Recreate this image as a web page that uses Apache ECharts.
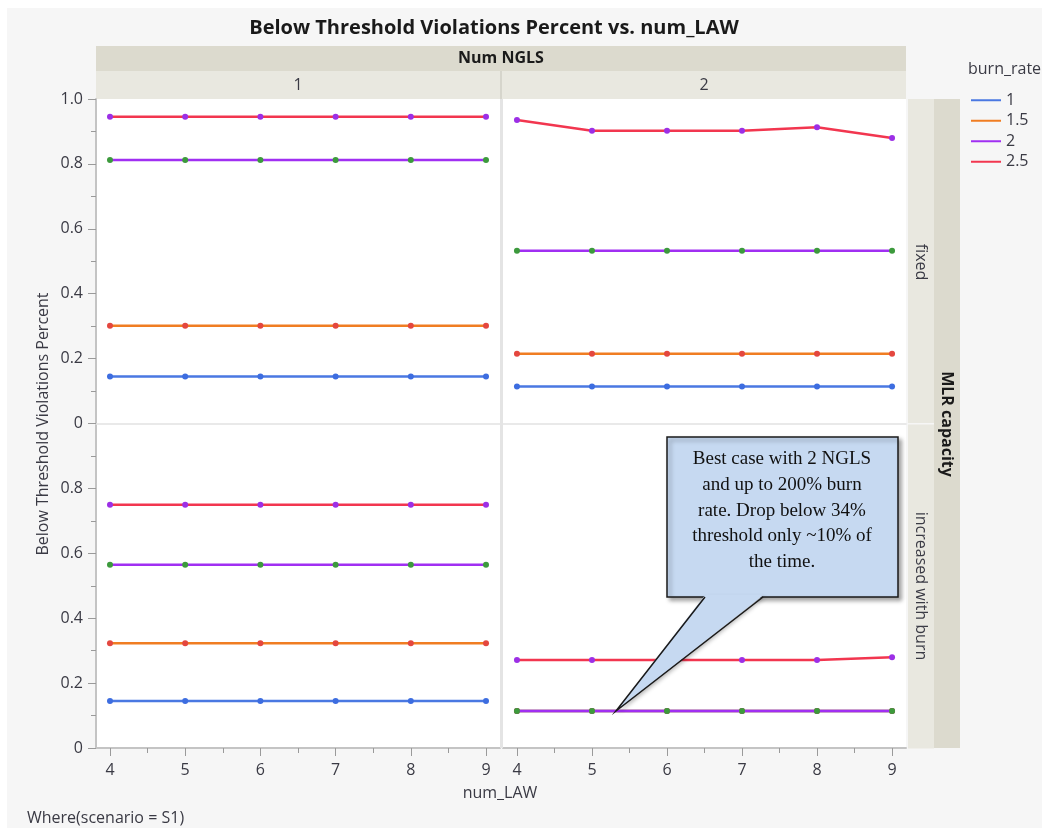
<!DOCTYPE html>
<html>
<head>
<meta charset="utf-8">
<script src="https://cdn.jsdelivr.net/npm/echarts@6/dist/echarts.min.js"></script>
<style>
html,body{margin:0;padding:0;background:#fff;}
#main{width:1042px;height:828px;}
</style>
</head>
<body>
<div id="main"></div>
<script>
// ---------- data ----------
const numLAW = [4, 5, 6, 7, 8, 9];
const burnRates = ['1', '1.5', '2', '2.5'];
const xTicks = [4, 5, 6, 7, 8, 9];
const xMinorTicks = [4.5, 5.5, 6.5, 7.5, 8.5];
const nglsLabels = ['1', '2'];
const mlrLabels = ['fixed', 'increased with burn'];

// NGLS 1, MLR fixed
const n1Fixed_b1   = [0.145, 0.145, 0.145, 0.145, 0.145, 0.145];
const n1Fixed_b15  = [0.301, 0.301, 0.301, 0.301, 0.301, 0.301];
const n1Fixed_b2   = [0.812, 0.812, 0.812, 0.812, 0.812, 0.812];
const n1Fixed_b25  = [0.945, 0.945, 0.945, 0.945, 0.945, 0.945];
// NGLS 2, MLR fixed
const n2Fixed_b1   = [0.114, 0.114, 0.114, 0.114, 0.114, 0.114];
const n2Fixed_b15  = [0.215, 0.215, 0.215, 0.215, 0.215, 0.215];
const n2Fixed_b2   = [0.532, 0.532, 0.532, 0.532, 0.532, 0.532];
const n2Fixed_b25  = [0.935, 0.902, 0.902, 0.902, 0.913, 0.880];
// NGLS 1, MLR increased with burn
const n1Inc_b1     = [0.145, 0.145, 0.145, 0.145, 0.145, 0.145];
const n1Inc_b15    = [0.323, 0.323, 0.323, 0.323, 0.323, 0.323];
const n1Inc_b2     = [0.565, 0.565, 0.565, 0.565, 0.565, 0.565];
const n1Inc_b25    = [0.750, 0.750, 0.750, 0.750, 0.750, 0.750];
// NGLS 2, MLR increased with burn
const n2Inc_b1     = [0.114, 0.114, 0.114, 0.114, 0.114, 0.114];
const n2Inc_b15    = [0.114, 0.114, 0.114, 0.114, 0.114, 0.114];
const n2Inc_b2     = [0.114, 0.114, 0.114, 0.114, 0.114, 0.114];
const n2Inc_b25    = [0.271, 0.271, 0.271, 0.271, 0.271, 0.280];

const panelData = [
  [n1Fixed_b1, n1Fixed_b15, n1Fixed_b2, n1Fixed_b25],
  [n2Fixed_b1, n2Fixed_b15, n2Fixed_b2, n2Fixed_b25],
  [n1Inc_b1, n1Inc_b15, n1Inc_b2, n1Inc_b25],
  [n2Inc_b1, n2Inc_b15, n2Inc_b2, n2Inc_b25]
];

// ---------- style ----------
const lineColors   = ['#4a78e2', '#f07d22', '#a02ff2', '#f2364f'];
const markerColors = ['#3d6de0', '#e4473f', '#3c9a3c', '#9c2fe6'];
const FONT = '"Open Sans", "Noto Sans", sans-serif';
const TXT = '#3a3a44';
const STRIP_DARK = '#dcdace';
const STRIP_LIGHT = '#e9e8e0';

const grids = [
  {left: 96,  top: 99,    width: 404, height: 324.5},
  {left: 503, top: 99,    width: 403, height: 324.5},
  {left: 96,  top: 423.5, width: 404, height: 324.5},
  {left: 503, top: 423.5, width: 403, height: 324.5}
].map(g => Object.assign({show: true, backgroundColor: '#fff', borderWidth: 0}, g));

const XMIN = 3.814, XMAX = 9.186;
const xAxes = [];
for (let p = 0; p < 4; p++) {
  const bottom = p >= 2;
  xAxes.push({
    type: 'value', gridIndex: p, min: XMIN, max: XMAX, position: 'bottom',
    axisLine: {show: true, lineStyle: {color: bottom ? '#c4c4c4' : '#e2e2e2', width: bottom ? 2 : 1.5}},
    axisTick: {show: bottom, customValues: xTicks, length: 8, lineStyle: {color: '#9a9a9a', width: 1}},
    axisLabel: {show: bottom, customValues: xTicks, margin: 14, fontSize: 16, color: TXT, fontFamily: FONT},
    splitLine: {show: false}
  });
}
for (let p = 0; p < 4; p++) {
  const bottom = p >= 2;
  xAxes.push({
    type: 'value', gridIndex: p, min: XMIN, max: XMAX, show: bottom, position: 'bottom', offset: 0,
    axisLine: {show: false},
    axisTick: {show: bottom, customValues: xMinorTicks, length: 5, lineStyle: {color: '#9a9a9a', width: 1}},
    axisLabel: {show: false},
    splitLine: {show: false}
  });
}

const yAxes = [];
for (let p = 0; p < 4; p++) {
  const left = (p % 2) === 0;
  yAxes.push({
    type: 'value', gridIndex: p, min: 0, max: 1, interval: 0.2, show: left, position: 'left',
    axisLine: {show: true, lineStyle: {color: '#c4c4c4', width: 2}},
    axisTick: {show: true, length: 8, lineStyle: {color: '#9a9a9a', width: 1}},
    minorTick: {show: true, splitNumber: 2, length: 5, lineStyle: {color: '#9a9a9a', width: 1}},
    axisLabel: {
      margin: 13, fontSize: 16, color: TXT, fontFamily: FONT,
      formatter: v => {
        if (p === 2 && Math.abs(v - 1) < 1e-9) return '';
        return Math.abs(v) < 1e-9 ? '0' : v.toFixed(1);
      }
    },
    splitLine: {show: false}
  });
}

const series = [];
for (let p = 0; p < 4; p++) {
  for (let b = 0; b < 4; b++) {
    series.push({
      name: burnRates[b], type: 'line', xAxisIndex: p, yAxisIndex: p,
      data: numLAW.map((x, i) => [x, panelData[p][b][i]]),
      symbol: 'circle', symbolSize: 6, showSymbol: true,
      lineStyle: {color: lineColors[b], width: 2.5},
      itemStyle: {color: markerColors[b]},
      emphasis: {disabled: true}, animation: false, z: 3 + b
    });
  }
}

const chart = echarts.init(document.getElementById('main'), null, {renderer: 'canvas'});

function baseGraphics() {
  const g = [];
  // white outer edge
  g.push({type: 'rect', shape: {x: 0, y: 0, width: 1042, height: 8}, style: {fill: '#fff'}, z: 0});
  g.push({type: 'rect', shape: {x: 0, y: 0, width: 7, height: 828}, style: {fill: '#fff'}, z: 0});
  // title
  g.push({type: 'text', x: 494, y: 28, style: {text: 'Below Threshold Violations Percent vs. num_LAW', fill: '#1a1a1a',
    font: 'bold 20px ' + FONT, align: 'center', verticalAlign: 'middle'}});
  // top strips
  g.push({type: 'rect', shape: {x: 96, y: 46, width: 810, height: 25}, style: {fill: STRIP_DARK}});
  g.push({type: 'text', x: 501, y: 58.5, style: {text: 'Num NGLS', fill: '#1a1a1a', font: 'bold 16px ' + FONT, align: 'center', verticalAlign: 'middle'}});
  g.push({type: 'rect', shape: {x: 96, y: 71, width: 404, height: 28}, style: {fill: STRIP_LIGHT}});
  g.push({type: 'rect', shape: {x: 502, y: 71, width: 404, height: 28}, style: {fill: STRIP_LIGHT}});
  g.push({type: 'rect', shape: {x: 500, y: 71, width: 2, height: 28}, style: {fill: '#d6d5cc'}});
  g.push({type: 'text', x: 298, y: 85, style: {text: nglsLabels[0], fill: TXT, font: '16px ' + FONT, align: 'center', verticalAlign: 'middle'}});
  g.push({type: 'text', x: 704, y: 85, style: {text: nglsLabels[1], fill: TXT, font: '16px ' + FONT, align: 'center', verticalAlign: 'middle'}});
  // right strips
  g.push({type: 'rect', shape: {x: 908, y: 99, width: 26, height: 324}, style: {fill: STRIP_LIGHT}});
  g.push({type: 'rect', shape: {x: 908, y: 424.5, width: 26, height: 324}, style: {fill: STRIP_LIGHT}});
  g.push({type: 'rect', shape: {x: 934, y: 99, width: 26, height: 649}, style: {fill: STRIP_DARK}});
  g.push({type: 'text', x: 921, y: 262, rotation: -Math.PI / 2, style: {text: mlrLabels[0], fill: TXT, font: '16px ' + FONT, align: 'center', verticalAlign: 'middle'}});
  g.push({type: 'text', x: 921, y: 586, rotation: -Math.PI / 2, style: {text: mlrLabels[1], fill: TXT, font: '16px ' + FONT, align: 'center', verticalAlign: 'middle'}});
  g.push({type: 'text', x: 947, y: 424, rotation: -Math.PI / 2, style: {text: 'MLR capacity', fill: '#1a1a1a', font: 'bold 16px ' + FONT, align: 'center', verticalAlign: 'middle'}});
  // vertical separator between panels
  g.push({type: 'rect', shape: {x: 500, y: 99, width: 3, height: 649}, style: {fill: '#e4e4e4'}, z: 1});
  // axis names
  g.push({type: 'text', x: 43, y: 424, rotation: Math.PI / 2, style: {text: 'Below Threshold Violations Percent', fill: TXT, font: '16px ' + FONT, align: 'center', verticalAlign: 'middle'}});
  g.push({type: 'text', x: 500, y: 793, style: {text: 'num_LAW', fill: TXT, font: '16px ' + FONT, align: 'center', verticalAlign: 'middle'}});
  g.push({type: 'text', x: 27, y: 818, style: {text: 'Where(scenario = S1)', fill: TXT, font: '16px ' + FONT, align: 'left', verticalAlign: 'middle'}});
  // legend title
  g.push({type: 'text', x: 968, y: 69, style: {text: 'burn_rate', fill: TXT, font: '16px ' + FONT, align: 'left', verticalAlign: 'middle'}});
  return g;
}

chart.setOption({
  animation: false,
  backgroundColor: '#f6f6f6',
  grid: grids,
  xAxis: xAxes,
  yAxis: yAxes,
  legend: {
    orient: 'vertical', left: 966, top: 87,
    itemWidth: 30, itemHeight: 2, itemGap: 4,
    textStyle: {fontSize: 16, color: TXT, fontFamily: FONT, lineHeight: 16.5},
    data: burnRates.map((n, i) => ({name: n, icon: 'rect', itemStyle: {color: lineColors[i]}})),
    selectedMode: false
  },
  series: series,
  graphic: baseGraphics()
});

// callout annotation
const tip = chart.convertToPixel({xAxisIndex: 3, yAxisIndex: 3}, [5.32, 0.114]);
const box = {x: 667, y: 437, w: 231, h: 160};
const baseL = 705, baseR = 763, baseY = box.y + box.h;
const calloutLines = ['Best case with 2 NGLS', 'and up to 200% burn', 'rate. Drop below 34%', 'threshold only ~10% of', 'the time.'];
const cg = baseGraphics();
cg.push({type: 'rect', z: 50, shape: {x: box.x, y: box.y, width: box.w, height: box.h},
  style: {fill: '#c6d9f1', stroke: '#1a1a1a', lineWidth: 1.5, shadowBlur: 4, shadowOffsetX: 3, shadowOffsetY: 3, shadowColor: 'rgba(0,0,0,0.35)'}});
cg.push({type: 'polygon', z: 51, shape: {points: [[baseL, baseY - 1.5], [baseR, baseY - 1.5], tip]},
  style: {fill: '#c6d9f1', shadowBlur: 4, shadowOffsetX: 2, shadowOffsetY: 2, shadowColor: 'rgba(0,0,0,0.3)'}});
cg.push({type: 'polygon', z: 52, shape: {points: [[baseL + 0.5, baseY - 2.5], [baseR - 0.5, baseY - 2.5], tip]},
  style: {fill: '#c6d9f1'}});
cg.push({type: 'polyline', z: 53, shape: {points: [[baseL, baseY], tip, [baseR, baseY]]},
  style: {stroke: '#1a1a1a', lineWidth: 1.5, fill: null}});
calloutLines.forEach((t, i) => {
  cg.push({type: 'text', z: 54, x: 782, y: 459 + i * 25.8, style: {text: t, fill: '#111',
    font: '19px "Liberation Serif", "DejaVu Serif", serif', align: 'center', verticalAlign: 'middle'}});
});
chart.setOption({graphic: cg}, {replaceMerge: ['graphic']});
</script>
</body>
</html>
